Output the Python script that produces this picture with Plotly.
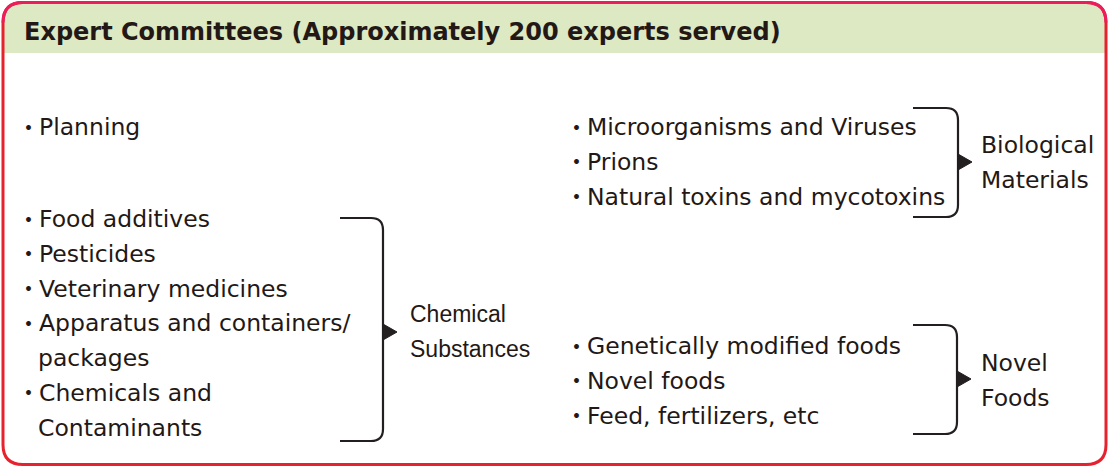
import plotly.graph_objects as go

W, H = 1109, 467

title_text = "Expert Committees (Approximately 200 experts served)"
planning_items = ["Planning"]
chemical_items = ["Food additives", "Pesticides", "Veterinary medicines",
                  "Apparatus and containers/", "+packages", "Chemicals and", "+Contaminants"]
biological_items = ["Microorganisms and Viruses", "Prions", "Natural toxins and mycotoxins"]
novel_items = ["Genetically modified foods", "Novel foods", "Feed, fertilizers, etc"]
chemical_label = ["Chemical", "Substances"]
biological_label = ["Biological", "Materials"]
novel_label = ["Novel", "Foods"]

TXT = "#231815"
ITEM_FONT = dict(family="DejaVu Sans", size=23.5, color=TXT)
STEP = 34.75

fig = go.Figure()
shapes = []
ann = []

# frame
x0, x1, y0, y1, r = 3, 1106, 2.5, 464.5, 20
hb = 53
green = (f"M{x0},{hb} L{x0},{y0+r} Q{x0},{y0} {x0+r},{y0} L{x1-r},{y0} "
         f"Q{x1},{y0} {x1},{y0+r} L{x1},{hb} Z")
shapes.append(dict(type="path", path=green, fillcolor="#DCE9C3", line=dict(width=0), layer="below"))
frame = (f"M{x0+r},{y0} L{x1-r},{y0} Q{x1},{y0} {x1},{y0+r} L{x1},{y1-r} Q{x1},{y1} {x1-r},{y1} "
         f"L{x0+r},{y1} Q{x0},{y1} {x0},{y1-r} L{x0},{y0+r} Q{x0},{y0} {x0+r},{y0} Z")
shapes.append(dict(type="path", path=frame, line=dict(color="#E6222E", width=3)))
top = (f"M{x0},{y0+r} Q{x0},{y0} {x0+r},{y0} L{x1-r},{y0} Q{x1},{y0} {x1},{y0+r}")
shapes.append(dict(type="path", path=top, line=dict(color="#EB1D5A", width=3)))

ann.append(dict(x=22, y=32, text=f"<b>{title_text}</b>", xanchor="left", yanchor="middle",
                showarrow=False, font=dict(family="DejaVu Sans", size=24, color=TXT)))


def items(lst, xb, xt, ystart):
    for i, t in enumerate(lst):
        y = ystart + i * STEP
        if t.startswith("+"):
            t = t[1:]
            xx = xt - 1
        else:
            ann.append(dict(x=xb, y=y - 1.5, text="・", xanchor="center", yanchor="middle", showarrow=False,
                            font=dict(family="Noto Sans CJK JP", size=23, color=TXT)))
            xx = xt
        ann.append(dict(x=xx, y=y, text=t, xanchor="left", yanchor="middle", showarrow=False, font=ITEM_FONT))


def label(lst, x, ystart, font):
    for i, t in enumerate(lst):
        ann.append(dict(x=x, y=ystart + i * STEP, text=t, xanchor="left", yanchor="middle",
                        showarrow=False, font=font))


def bracket(xl, xv, yt, yb, ya, rr=12):
    p = (f"M{xl},{yt} L{xv-rr},{yt} Q{xv},{yt} {xv},{yt+rr} L{xv},{yb-rr} "
         f"Q{xv},{yb} {xv-rr},{yb} L{xl},{yb}")
    shapes.append(dict(type="path", path=p, line=dict(color="#231F20", width=2.2)))
    tri = f"M{xv},{ya-8} L{xv+14},{ya} L{xv},{ya+8} Z"
    shapes.append(dict(type="path", path=tri, fillcolor="#231F20", line=dict(color="#231F20", width=1)))


items(planning_items, 28, 37, 127)
items(chemical_items, 28, 37, 219)
items(biological_items, 576, 585, 127)
items(novel_items, 576, 585, 346)

label(chemical_label, 408, 314, dict(family="Liberation Sans", size=23, color=TXT))
label(biological_label, 979, 145, ITEM_FONT)
label(novel_label, 979, 363, ITEM_FONT)

bracket(340, 383, 218, 441, 332)
bracket(913, 958, 108, 217, 162)
bracket(913, 957, 325, 434, 379)

fig.update_layout(
    width=W, height=H, margin=dict(l=0, r=0, t=0, b=0),
    paper_bgcolor="white", plot_bgcolor="white",
    xaxis=dict(range=[0, W], visible=False, fixedrange=True),
    yaxis=dict(range=[H, 0], visible=False, fixedrange=True),
    shapes=shapes, annotations=ann, showlegend=False,
)
fig.write_html("out.html", config={"displayModeBar": False},
               post_script="document.body.style.margin='0';document.body.style.overflow='hidden';")
